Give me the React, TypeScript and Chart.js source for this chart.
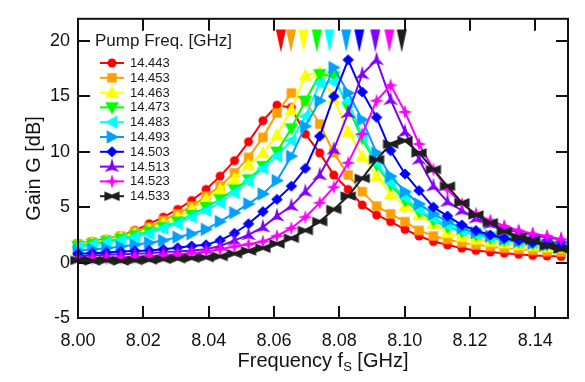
import React, { useEffect, useRef } from 'react';
import { Chart, registerables } from 'chart.js';

Chart.register(...registerables);

// Signal frequency sampling [GHz]
const freqGHz = [
  8.0, 8.0044, 8.0087, 8.0131, 8.0174, 8.0218, 8.0261, 8.0305, 8.0348, 8.0392,
  8.0435, 8.0479, 8.0522, 8.0566, 8.0609, 8.0653, 8.0696, 8.074, 8.0783, 8.0827,
  8.087, 8.0914, 8.0957, 8.1001, 8.1044, 8.1088, 8.1131, 8.1175, 8.1218, 8.1262,
  8.1305, 8.1349, 8.1392, 8.1436, 8.1479,
];

const pumpFreqs = ['14.443', '14.453', '14.463', '14.473', '14.483', '14.493', '14.503', '14.513', '14.523', '14.533'];
const seriesColors = ['#ff0000', '#ffa000', '#ffff00', '#00ff00', '#00ffff', '#00a0ff', '#0000ff', '#7f00ff', '#ff00ff', '#1e1e1e'];
const markerKinds = ['circle', 'square', 'triUp', 'triDown', 'triLeft', 'triRight', 'diamond', 'star3', 'star4', 'bowtie'];

const gain14443 = [1.7, 1.9, 2.1, 2.4, 2.9, 3.5, 4.1, 4.8, 5.6, 6.6, 7.8, 9.2, 10.9, 12.8, 14.2, 14.0, 11.6, 9.9, 7.9, 6.6, 5.2, 4.3, 3.7, 3.0, 2.4, 1.9, 1.6, 1.3, 1.1, 0.95, 0.85, 0.75, 0.65, 0.6, 0.55];
const gain14453 = [1.7, 1.85, 2.05, 2.4, 2.8, 3.2, 3.8, 4.4, 5.1, 6.0, 6.9, 8.1, 9.5, 11.3, 13.5, 15.3, 14.6, 12.5, 9.9, 7.9, 6.4, 5.1, 4.4, 3.7, 2.9, 2.4, 2.1, 1.8, 1.6, 1.45, 1.3, 1.2, 1.1, 1.0, 0.95];
const gain14463 = [1.6, 1.8, 2.0, 2.3, 2.6, 3.0, 3.5, 4.1, 4.8, 5.7, 6.6, 7.6, 8.8, 9.9, 11.5, 13.8, 16.9, 17.2, 14.8, 11.8, 9.6, 7.8, 6.2, 5.1, 4.3, 3.5, 2.7, 2.35, 2.1, 1.9, 1.75, 1.6, 1.5, 1.4, 1.35];
const gain14473 = [1.5, 1.7, 1.9, 2.15, 2.45, 2.8, 3.2, 3.7, 4.3, 5.0, 5.7, 6.6, 7.5, 8.7, 10.0, 12.1, 14.6, 17.0, 16.8, 14.0, 11.2, 8.8, 7.0, 5.6, 4.6, 3.8, 3.2, 2.8, 2.5, 2.2, 2.0, 1.85, 1.7, 1.6, 1.5];
const gain14483 = [1.4, 1.6, 1.8, 2.0, 2.3, 2.6, 3.1, 3.5, 4.1, 4.7, 5.4, 6.3, 7.35, 8.5, 9.6, 11.0, 13.2, 16.2, 16.3, 14.5, 11.5, 9.0, 7.2, 5.9, 4.8, 4.0, 3.4, 2.9, 2.6, 2.3, 2.1, 1.9, 1.8, 1.7, 1.6];
const gain14493 = [1.1, 1.2, 1.3, 1.45, 1.6, 1.8, 2.0, 2.3, 2.6, 3.0, 3.7, 4.5, 5.3, 6.2, 7.4, 9.6, 12.3, 14.6, 17.6, 15.3, 12.9, 9.9, 7.8, 6.4, 5.3, 4.4, 3.7, 3.1, 2.7, 2.4, 2.1, 1.9, 1.75, 1.6, 1.5];
const gain14503 = [0.8, 0.85, 0.9, 1.0, 1.05, 1.1, 1.2, 1.35, 1.5, 1.6, 2.0, 2.65, 3.5, 4.6, 5.7, 6.9, 8.5, 11.4, 15.0, 18.3, 15.4, 13.1, 10.1, 8.0, 6.5, 5.0, 4.2, 3.4, 2.9, 2.5, 2.2, 2.0, 1.8, 1.65, 1.5];
const gain14513 = [0.6, 0.65, 0.7, 0.75, 0.8, 0.85, 0.95, 1.0, 1.1, 1.2, 1.5, 2.0, 2.5, 3.2, 4.2, 5.1, 6.4, 7.9, 10.2, 13.5, 17.0, 18.3, 14.7, 11.8, 9.3, 6.9, 5.5, 4.7, 4.0, 3.5, 3.1, 2.7, 2.5, 2.25, 2.1];
const gain14523 = [0.35, 0.4, 0.4, 0.45, 0.5, 0.6, 0.65, 0.75, 0.85, 1.0, 1.2, 1.45, 1.65, 1.9, 2.4, 3.1, 4.1, 5.4, 6.8, 9.0, 11.6, 14.6, 16.0, 13.6, 10.7, 8.4, 6.6, 5.3, 4.4, 3.8, 3.3, 2.9, 2.6, 2.4, 2.1];
const gain14533 = [0.2, 0.15, 0.2, 0.15, 0.2, 0.25, 0.3, 0.35, 0.4, 0.45, 0.55, 0.8, 1.05, 1.3, 1.7, 2.2, 2.9, 3.7, 4.8, 6.0, 7.6, 9.3, 10.7, 11.0, 9.9, 8.4, 6.9, 5.4, 4.3, 3.6, 2.8, 2.3, 2.0, 1.5, 1.2];

const allGains = [gain14443, gain14453, gain14463, gain14473, gain14483, gain14493, gain14503, gain14513, gain14523, gain14533];

// Markers at the top of the plot (one per pump frequency)
const topMarkFreq = [8.0621, 8.0652, 8.069, 8.0731, 8.077, 8.0821, 8.0861, 8.091, 8.0953, 8.0991];
const topMarkGain = [20, 20, 20, 20, 20, 20, 20, 20, 20, 20];

const xTickValues = [8.0, 8.02, 8.04, 8.06, 8.08, 8.1, 8.12, 8.14];
const yTickValues = [-5, 0, 5, 10, 15, 20];

const FONT = 'Arial, "Liberation Sans", Helvetica, sans-serif';
const INK = '#111111';

function makeMarker(kind: string, color: string): HTMLCanvasElement {
  const size = 20;
  const c = document.createElement('canvas');
  c.width = size;
  c.height = size;
  const ctx = c.getContext('2d') as CanvasRenderingContext2D;
  ctx.translate(size / 2, size / 2);
  ctx.fillStyle = color;
  ctx.beginPath();
  const poly = (pts: number[][]) => {
    ctx.moveTo(pts[0][0], pts[0][1]);
    for (let i = 1; i < pts.length; i++) ctx.lineTo(pts[i][0], pts[i][1]);
    ctx.closePath();
  };
  const star = (n: number, ro: number, ri: number) => {
    const pts: number[][] = [];
    for (let i = 0; i < n * 2; i++) {
      const a = -Math.PI / 2 + (i * Math.PI) / n;
      const r = i % 2 === 0 ? ro : ri;
      pts.push([r * Math.cos(a), r * Math.sin(a)]);
    }
    poly(pts);
  };
  switch (kind) {
    case 'circle':
      ctx.arc(0, 0, 4.5, 0, Math.PI * 2);
      break;
    case 'square':
      ctx.rect(-4.7, -4.7, 9.4, 9.4);
      break;
    case 'triUp':
      poly([[0, -7], [6.8, 5.3], [-6.8, 5.3]]);
      break;
    case 'triDown':
      poly([[0, 7], [6.8, -5.3], [-6.8, -5.3]]);
      break;
    case 'triLeft':
      poly([[-7, 0], [5.3, -6.8], [5.3, 6.8]]);
      break;
    case 'triRight':
      poly([[7, 0], [-5.3, -6.8], [-5.3, 6.8]]);
      break;
    case 'diamond':
      poly([[0, -5.6], [5.8, 0], [0, 5.6], [-5.8, 0]]);
      break;
    case 'star3':
      poly([[0, -8.5], [2.2, -0.5], [7.6, 5.2], [0, 3.2], [-7.6, 5.2], [-2.2, -0.5]]);
      break;
    case 'star4':
      star(4, 7.3, 2.3);
      break;
    case 'bowtie':
      poly([[-7.6, -4.8], [0, -1.8], [7.6, -4.8], [7.6, 4.8], [0, 1.8], [-7.6, 4.8]]);
      break;
  }
  ctx.fill();
  return c;
}

function makeTopMarker(color: string): HTMLCanvasElement {
  const c = document.createElement('canvas');
  c.width = 12;
  c.height = 26;
  const ctx = c.getContext('2d') as CanvasRenderingContext2D;
  ctx.fillStyle = color;
  ctx.beginPath();
  ctx.moveTo(1, 1.5);
  ctx.lineTo(11, 1.5);
  ctx.lineTo(6, 24.5);
  ctx.closePath();
  ctx.fill();
  return c;
}

export default function App() {
  const canvasRef = useRef<HTMLCanvasElement | null>(null);

  useEffect(() => {
    const canvas = canvasRef.current;
    if (!canvas) return;
    document.body.style.margin = '0';

    const markers = markerKinds.map((k, i) => makeMarker(k, seriesColors[i]));
    const topMarkers = seriesColors.map((c) => makeTopMarker(c));

    const datasets: any[] = allGains.map((g, i) => ({
      label: pumpFreqs[i],
      data: freqGHz.map((f, j) => ({ x: f, y: g[j] })),
      borderColor: seriesColors[i],
      backgroundColor: seriesColors[i],
      borderWidth: 2,
      pointStyle: markers[i],
      pointRadius: 5,
      tension: 0,
      clip: false,
      order: 20 - i,
    }));
    datasets.push({
      label: 'pump markers',
      data: topMarkFreq.map((f, j) => ({ x: f, y: topMarkGain[j] })),
      showLine: false,
      pointStyle: topMarkers,
      pointRadius: 6,
      borderWidth: 0,
      clip: false,
      order: 0,
    });

    const decor = {
      id: 'decor',
      afterDraw(chart: any) {
        const ctx = chart.ctx as CanvasRenderingContext2D;
        const { left, right, top, bottom } = chart.chartArea;
        const xs = chart.scales.x;
        const ys = chart.scales.y;
        ctx.save();
        // frame
        ctx.strokeStyle = INK;
        ctx.lineWidth = 2;
        ctx.strokeRect(left, top, right - left, bottom - top);
        // inward ticks on all four sides
        ctx.beginPath();
        const tl = 12;
        xTickValues.forEach((v) => {
          const px = Math.round(xs.getPixelForValue(v));
          if (Math.abs(px - left) < 2) return;
          ctx.moveTo(px, bottom);
          ctx.lineTo(px, bottom - tl);
          ctx.moveTo(px, top);
          ctx.lineTo(px, top + tl);
        });
        yTickValues.forEach((v) => {
          const py = Math.round(ys.getPixelForValue(v));
          if (Math.abs(py - bottom) < 2) return;
          ctx.moveTo(left, py);
          ctx.lineTo(left + tl, py);
          ctx.moveTo(right, py);
          ctx.lineTo(right - tl, py);
        });
        ctx.stroke();

        // axis titles
        ctx.fillStyle = INK;
        ctx.font = `20px ${FONT}`;
        ctx.textBaseline = 'middle';
        ctx.textAlign = 'center';
        ctx.save();
        ctx.translate(34, (top + bottom) / 2);
        ctx.rotate(-Math.PI / 2);
        ctx.fillText('Gain G [dB]', 0, 0);
        ctx.restore();

        const t1 = 'Frequency f';
        const t2 = 'S';
        const t3 = ' [GHz]';
        ctx.textAlign = 'left';
        ctx.textBaseline = 'alphabetic';
        ctx.font = `20px ${FONT}`;
        const w1 = ctx.measureText(t1).width;
        const w3 = ctx.measureText(t3).width;
        ctx.font = `13px ${FONT}`;
        const w2 = ctx.measureText(t2).width;
        const cx = (left + right) / 2;
        let x0 = cx - (w1 + w2 + w3) / 2;
        const base = 367;
        ctx.font = `20px ${FONT}`;
        ctx.fillText(t1, x0, base);
        x0 += w1;
        ctx.font = `13px ${FONT}`;
        ctx.fillText(t2, x0, base + 4);
        x0 += w2;
        ctx.font = `20px ${FONT}`;
        ctx.fillText(t3, x0, base);

        // legend
        ctx.textBaseline = 'middle';
        ctx.textAlign = 'left';
        ctx.font = `17px ${FONT}`;
        ctx.fillStyle = '#1a1a1a';
        ctx.fillText('Pump Freq. [GHz]', 95, 41);
        ctx.font = `13px ${FONT}`;
        pumpFreqs.forEach((p, i) => {
          const y = 63 + i * 14.8;
          ctx.strokeStyle = seriesColors[i];
          ctx.lineWidth = 2;
          ctx.beginPath();
          ctx.moveTo(100, y);
          ctx.lineTo(124, y);
          ctx.stroke();
          const m = markers[i];
          ctx.drawImage(m, 112 - m.width / 2, y - m.height / 2);
          ctx.fillStyle = '#1a1a1a';
          ctx.fillText(p, 130, y + 0.5);
        });
        ctx.restore();
      },
    };

    const chart = new Chart(canvas, {
      type: 'line',
      data: { datasets },
      plugins: [decor],
      options: {
        animation: false,
        responsive: false,
        events: [],
        layout: { padding: { left: 0, top: 12, right: 17, bottom: 0 } },
        plugins: { legend: { display: false }, tooltip: { enabled: false }, title: { display: false } },
        scales: {
          x: {
            type: 'linear',
            min: 8.0,
            max: 8.15,
            afterBuildTicks: (s: any) => {
              s.ticks = xTickValues.map((v) => ({ value: v }));
            },
            afterFit: (s: any) => {
              s.height = 64;
            },
            grid: { display: false, drawTicks: false, tickLength: 0 },
            border: { display: false },
            ticks: {
              autoSkip: false,
              maxRotation: 0,
              padding: 12,
              color: INK,
              font: { size: 18, family: FONT },
              callback: (v: any) => Number(v).toFixed(2),
            },
          },
          y: {
            type: 'linear',
            min: -5,
            max: 22,
            afterBuildTicks: (s: any) => {
              s.ticks = yTickValues.map((v) => ({ value: v }));
            },
            afterFit: (s: any) => {
              s.width = 78;
            },
            grid: { display: false, drawTicks: false, tickLength: 0 },
            border: { display: false },
            ticks: {
              autoSkip: false,
              padding: 8,
              color: INK,
              font: { size: 18, family: FONT },
              callback: (v: any) => String(v),
            },
          },
        },
      },
    });

    return () => {
      chart.destroy();
    };
  }, []);

  return (
    <div style={{ position: 'fixed', left: 0, top: 0, width: 585, height: 382, background: '#fff' }}>
      <canvas ref={canvasRef} width={585} height={382} style={{ display: 'block' }} />
    </div>
  );
}
